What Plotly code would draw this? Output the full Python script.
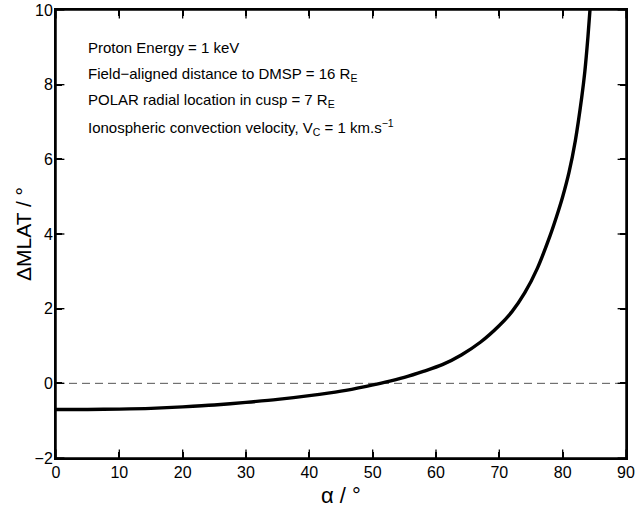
import plotly.graph_objects as go

alpha = [0, 5, 10, 15, 20, 25, 30, 35, 40, 45, 49, 52, 55, 58, 61, 64, 67, 70, 72, 74,
         76, 78, 79, 80, 81, 82, 83, 83.5, 84, 84.4]
dmlat = [-0.70, -0.70, -0.69, -0.67, -0.63, -0.58, -0.51, -0.43, -0.33, -0.21, -0.08, 0.03,
         0.16, 0.32, 0.50, 0.76, 1.10, 1.55, 1.92, 2.42, 3.08, 3.95, 4.45, 5.0, 5.65, 6.5,
         7.65, 8.35, 9.3, 10.2]

zero_x = [0, 90]
zero_y = [0, 0]

x_range = [0, 90]
y_range = [-2, 10]
xticks = [0, 10, 20, 30, 40, 50, 60, 70, 80, 90]
yticks = [-2, 0, 2, 4, 6, 8, 10]

notes = [
    "Proton Energy = 1 keV",
    "Field\u2212aligned distance to DMSP = 16 R<sub>E</sub>",
    "POLAR radial location in cusp = 7 R<sub>E</sub>",
    "Ionospheric convection velocity, V<sub>C</sub> = 1 km.s<sup>\u22121</sup>",
]
note_y = [9.0, 8.28, 7.58, 6.86]

x_title = "\u03b1 / \u00b0"
y_title = "\u0394MLAT / \u00b0"

FONT = "Liberation Sans, Arial, sans-serif"

fig = go.Figure()
fig.add_trace(go.Scatter(x=zero_x, y=zero_y, mode="lines",
                         line=dict(color="#555555", width=1, dash="8px,5px"),
                         showlegend=False, hoverinfo="skip"))
fig.add_trace(go.Scatter(x=alpha, y=dmlat, mode="lines", line_shape="spline",
                         line=dict(color="black", width=3.4, smoothing=0.8),
                         showlegend=False, cliponaxis=True))

# inside tick marks on all four sides (half of each centred marker is clipped by the plot area)
tx = xticks + xticks
ty = [y_range[0]] * len(xticks) + [y_range[1]] * len(xticks)
fig.add_trace(go.Scatter(x=tx, y=ty, mode="markers", cliponaxis=True, hoverinfo="skip",
                         showlegend=False,
                         marker=dict(symbol="line-ns", size=12, color="black",
                                     line=dict(width=1.3, color="black"))))
sx = [x_range[0]] * len(yticks) + [x_range[1]] * len(yticks)
sy = yticks + yticks
fig.add_trace(go.Scatter(x=sx, y=sy, mode="markers", cliponaxis=True, hoverinfo="skip",
                         showlegend=False,
                         marker=dict(symbol="line-ew", size=12, color="black",
                                     line=dict(width=1.3, color="black"))))

for t, yv in zip(notes, note_y):
    fig.add_annotation(x=4.8, y=yv, xref="x", yref="y", text=t, showarrow=False,
                       xanchor="left", yanchor="middle",
                       font=dict(family=FONT, size=15, color="black"))

# axis titles
fig.add_annotation(x=0.5, y=0, xref="paper", yref="paper", text=x_title, showarrow=False,
                   xanchor="center", yanchor="middle", yshift=-37,
                   font=dict(family=FONT, size=22, color="black"))
fig.add_annotation(x=0, y=0.5, xref="paper", yref="paper", text=y_title, showarrow=False,
                   xanchor="center", yanchor="middle", xshift=-33, textangle=-90,
                   font=dict(family=FONT, size=21, color="black"))

axis_common = dict(showline=True, linecolor="black", linewidth=2, mirror="ticks",
                   ticks="inside", ticklen=6, tickcolor="black", tickwidth=1.5,
                   tickmode="array", layer="above traces",
                   showgrid=False, zeroline=False, automargin=False,
                   tickfont=dict(family=FONT, size=16, color="black"))

fig.update_xaxes(range=x_range, tickvals=xticks, ticktext=[str(v) for v in xticks],
                 ticklabelstandoff=-1, **axis_common)
fig.update_yaxes(range=y_range, tickvals=yticks,
                 ticktext=["\u22122" if v == -2 else str(v) for v in yticks],
                 ticklabelstandoff=-2, **axis_common)

fig.add_shape(type="rect", xref="paper", yref="paper", x0=0, y0=0, x1=1, y1=1,
              line=dict(color="black", width=1.5), layer="above")

fig.update_layout(width=636, height=508, margin=dict(l=56, r=10, t=10, b=50),
                  plot_bgcolor="white", paper_bgcolor="white")

post = (
    "document.body.style.margin='0';document.body.style.padding='0';"
)

fig.write_html("out.html", config={"displayModeBar": False}, post_script=post)
